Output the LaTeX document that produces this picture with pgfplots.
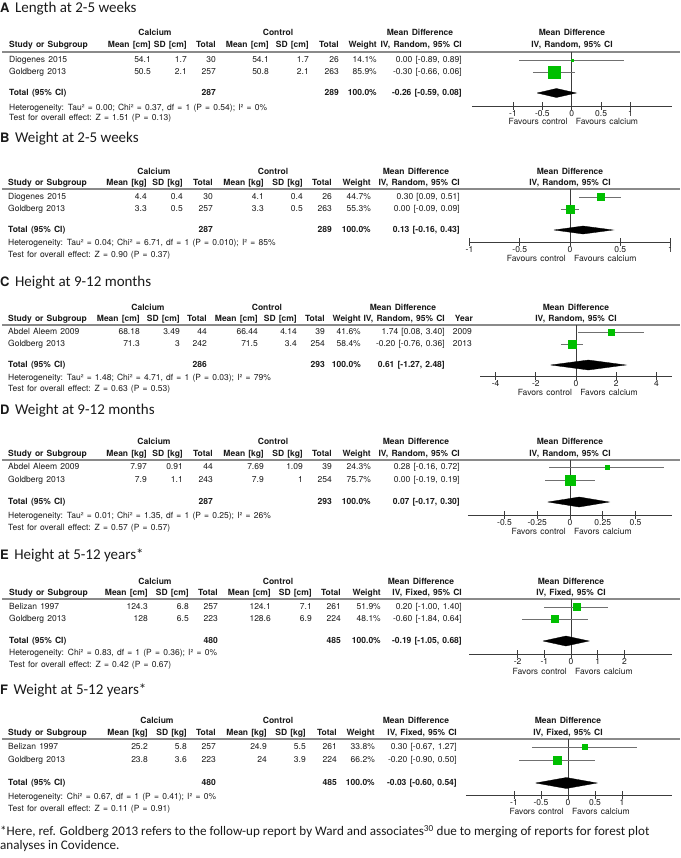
\documentclass[border=0pt]{standalone}
\usepackage{fontspec}
\setmainfont{TeX Gyre Heros}
\newfontfamily\calibri{Carlito}
\usepackage{pgfplots}
\pgfplotsset{compat=1.18}
\definecolor{txt}{HTML}{1A1A1A}
\definecolor{sqgreen}{HTML}{00BF00}
\definecolor{cigray}{HTML}{707070}
\definecolor{axgray}{HTML}{3C3C3C}
\definecolor{rulegray}{HTML}{8A8A8A}
\newcommand{\fs}{\fontsize{8.5}{9.5}\selectfont\spaceskip=3.2pt plus 1pt minus 0.5pt\relax}
\newcommand{\tl}[3]{\node[anchor=mid west] at (#1,#2) {#3};}
\newcommand{\tr}[3]{\node[anchor=mid east] at (#1,#2) {#3};}
\newcommand{\tc}[3]{\node[anchor=mid] at (#1,#2) {#3};}
% y, study, m1, sd1, n1, m2, sd2, n2, weight
\newcommand{\datarow}[9]{\tl{\cS}{#1}{#2}\tr{\cM}{#1}{#3}\tr{\cD}{#1}{#4}\tr{\cN}{#1}{#5}\tr{\cMM}{#1}{#6}\tr{\cDD}{#1}{#7}\tr{\cNN}{#1}{#8}\tr{\cW}{#1}{#9}}
% y, unit, method
\newcommand{\headrow}[3]{\tl{\cS}{#1}{\bfseries Study or Subgroup}\tr{\cM}{#1}{\bfseries Mean [#2]}\tr{\cD}{#1}{\bfseries SD [#2]}\tr{\cN}{#1}{\bfseries Total}\tr{\cMM}{#1}{\bfseries Mean [#2]}\tr{\cDD}{#1}{\bfseries SD [#2]}\tr{\cNN}{#1}{\bfseries Total}\tr{\cW}{#1}{\bfseries Weight}\tr{\cCI}{#1}{\bfseries IV, #3, 95\% CI}\tc{\cP}{#1}{\bfseries IV, #3, 95\% CI}}
% y, calcium x, control x
\newcommand{\grouprow}[3]{\tc{#2}{#1}{\bfseries Calcium}\tc{#3}{#1}{\bfseries Control}\tc{\cMD}{#1}{\bfseries Mean Difference}\tc{\cP}{#1}{\bfseries Mean Difference}}
% y, n1, n2, ci
\newcommand{\totalrow}[4]{\tl{\cS}{#1}{\bfseries Total (95\% CI)}\tr{\cN}{#1}{\bfseries #2}\tr{\cNN}{#1}{\bfseries #3}\tr{\cW}{#1}{\bfseries 100.0\%}\tr{\cCI}{#1}{\bfseries #4}}
\newcommand{\hrul}[1]{\draw[rulegray, line width=1.1pt] (2,#1) -- (680,#1);}
\newcommand{\ptitle}[3]{\node[anchor=mid west, font=\fontsize{15}{17}\selectfont] at (0,#1) {{\fontsize{13}{15}\selectfont\bfseries #2}\hspace{5.5pt}{\calibri #3}};}
\tikzset{fav/.style={font=\fs, text=txt, inner sep=0pt}}
\pgfplotsset{
  forest/.style={scale only axis, enlargelimits=false, clip=false, hide y axis,
    axis x line*=bottom, anchor=north west,
    axis line style={color=axgray, line width=0.9pt},
    xtick style={color=axgray, line width=0.9pt},
    tick align=center, major tick length=8pt,
    xticklabel style={font=\fs, anchor=mid, yshift=-3.5pt, text=txt}},
  zeroline/.style={axgray, line width=0.9pt},
  ci/.style={cigray, line width=0.9pt},
  sq/.style={only marks, mark=square*, mark options={fill=sqgreen, draw=sqgreen, line width=0.2pt}},
  diam/.style={fill=black, draw=black, line width=0.3pt},
}
\begin{document}
\begin{tikzpicture}[x=1pt, y=-1pt, every node/.style={inner sep=0pt, font=\fs, text=txt}]
\path[use as bounding box] (0,0) rectangle (680,858);

% ---------------- Panel A ----------------
\ptitle{9.4}{A}{Length at 2-5 weeks}
\def\cS{9}\def\cM{151}\def\cD{187}\def\cN{216}\def\cMM{269}\def\cDD{309}\def\cNN{339}\def\cW{377}\def\cCI{462}\def\cMD{420}\def\cP{572}
\grouprow{33}{155}{278}
\headrow{45}{cm}{Random}
\hrul{52}
\datarow{60}{Diogenes 2015}{54.1}{1.7}{30}{54.1}{1.7}{26}{14.1\%}\tr{\cCI}{60}{0.00 [-0.89, 0.89]}
\datarow{72}{Goldberg 2013}{50.5}{2.1}{257}{50.8}{2.1}{263}{85.9\%}\tr{\cCI}{72}{-0.30 [-0.66, 0.06]}
\totalrow{93}{287}{289}{-0.26 [-0.59, 0.08]}
\tl{\cS}{108}{Heterogeneity: Tau² = 0.00; Chi² = 0.37, df = 1 (P = 0.54); I² = 0\%}
\tl{\cS}{118}{Test for overall effect: Z = 1.51 (P = 0.13)}
\begin{axis}[forest, at={(471.9pt,-52pt)}, width=200.2pt, height=54pt, xmin=-1.7, xmax=1.71, ymin=-106, ymax=-52,
  xtick={-1,-0.5,0,0.5,1}, xticklabels={-1,-0.5,0,0.5,1}]
\addplot[zeroline] coordinates {(0,-52) (0,-106)};
\addplot[ci] coordinates {(-0.89,-60) (0.89,-60)};
\addplot[ci] coordinates {(-0.66,-72) (0.06,-72)};
\addplot[sq, mark size=1pt] coordinates {(0.00,-60)};
\addplot[sq, mark size=6pt] coordinates {(-0.30,-72)};
\addplot[diam] coordinates {(-0.59,-93) (-0.26,-88.5) (0.08,-93) (-0.26,-97.5) (-0.59,-93)};
\node[fav, anchor=mid east, xshift=-4pt] at (axis cs:0,-122) {Favours control};
\node[fav, anchor=mid west, xshift=4pt] at (axis cs:0,-122) {Favours calcium};
\end{axis}

% ---------------- Panel B ----------------
\ptitle{140.2}{B}{Weight at 2-5 weeks}
\def\cS{8}\def\cM{147}\def\cD{183}\def\cN{213}\def\cMM{264}\def\cDD{303}\def\cNN{332}\def\cW{371}\def\cCI{460}\def\cMD{416}\def\cP{570}
\grouprow{172}{154}{273}
\headrow{183}{kg}{Random}
\hrul{189}
\datarow{197}{Diogenes 2015}{4.4}{0.4}{30}{4.1}{0.4}{26}{44.7\%}\tr{\cCI}{197}{0.30 [0.09, 0.51]}
\datarow{209}{Goldberg 2013}{3.3}{0.5}{257}{3.3}{0.5}{263}{55.3\%}\tr{\cCI}{209}{0.00 [-0.09, 0.09]}
\totalrow{230}{287}{289}{0.13 [-0.16, 0.43]}
\tl{\cS}{243}{Heterogeneity: Tau² = 0.04; Chi² = 6.71, df = 1 (P = 0.010); I² = 85\%}
\tl{\cS}{255}{Test for overall effect: Z = 0.90 (P = 0.37)}
\begin{axis}[forest, at={(469.5pt,-189pt)}, width=201pt, height=53pt, xmin=-1, xmax=1, ymin=-242, ymax=-189,
  xtick={-1,-0.5,0,0.5,1}, xticklabels={-1,-0.5,0,0.5,1}]
\addplot[zeroline] coordinates {(0,-189) (0,-242)};
\addplot[ci] coordinates {(0.09,-197) (0.51,-197)};
\addplot[ci] coordinates {(-0.09,-209) (0.09,-209)};
\addplot[sq, mark size=3.5pt] coordinates {(0.30,-197)};
\addplot[sq, mark size=4pt] coordinates {(0.00,-209)};
\addplot[diam] coordinates {(-0.16,-230) (0.13,-226) (0.43,-230) (0.13,-234) (-0.16,-230)};
\node[fav, anchor=mid east, xshift=-4pt] at (axis cs:0,-258.5) {Favours control};
\node[fav, anchor=mid west, xshift=4pt] at (axis cs:0,-258.5) {Favours calcium};
\end{axis}

% ---------------- Panel C ----------------
\ptitle{283.6}{C}{Height at 9-12 months}
\def\cS{8}\def\cM{140}\def\cD{180}\def\cN{207}\def\cMM{258}\def\cDD{297}\def\cNN{325}\def\cW{361}\def\cCI{445}\def\cMD{403}\def\cP{576}
\grouprow{308}{148}{267}
\headrow{319}{cm}{Random}
\tr{473}{319}{\bfseries Year}
\hrul{325}
\datarow{332}{Abdel Aleem 2009}{68.18}{3.49}{44}{66.44}{4.14}{39}{41.6\%}\tr{\cCI}{332}{1.74 [0.08, 3.40]}\tr{472}{332}{2009}
\datarow{344}{Goldberg 2013}{71.3}{3}{242}{71.5}{3.4}{254}{58.4\%}\tr{\cCI}{344}{-0.20 [-0.76, 0.36]}\tr{472}{344}{2013}
\totalrow{365}{286}{293}{0.61 [-1.27, 2.48]}
\tl{\cS}{378}{Heterogeneity: Tau² = 1.48; Chi² = 4.71, df = 1 (P = 0.03); I² = 79\%}
\tl{\cS}{389}{Test for overall effect: Z = 0.63 (P = 0.53)}
\begin{axis}[forest, at={(480pt,-325pt)}, width=192.2pt, height=51pt, xmin=-4.78, xmax=4.78, ymin=-376, ymax=-325,
  xtick={-4,-2,0,2,4}, xticklabels={-4,-2,0,2,4}]
\addplot[zeroline] coordinates {(0,-325) (0,-376)};
\addplot[ci] coordinates {(0.08,-332) (3.40,-332)};
\addplot[ci] coordinates {(-0.76,-344) (0.36,-344)};
\addplot[sq, mark size=3pt] coordinates {(1.74,-332)};
\addplot[sq, mark size=4pt] coordinates {(-0.20,-344)};
\addplot[diam] coordinates {(-1.27,-365) (0.61,-360) (2.48,-365) (0.61,-370) (-1.27,-365)};
\node[fav, anchor=mid east, xshift=-4pt] at (axis cs:0,-393) {Favors control};
\node[fav, anchor=mid west, xshift=4pt] at (axis cs:0,-393) {Favors calcium};
\end{axis}

% ---------------- Panel D ----------------
\ptitle{411.6}{D}{Weight at 9-12 months}
\def\cS{8}\def\cM{147}\def\cD{183}\def\cN{213}\def\cMM{264}\def\cDD{303}\def\cNN{332}\def\cW{371}\def\cCI{460}\def\cMD{416}\def\cP{570}
\grouprow{442}{154}{273}
\headrow{454}{kg}{Random}
\hrul{460}
\datarow{467}{Abdel Aleem 2009}{7.97}{0.91}{44}{7.69}{1.09}{39}{24.3\%}\tr{\cCI}{467}{0.28 [-0.16, 0.72]}
\datarow{480}{Goldberg 2013}{7.9}{1.1}{243}{7.9}{1}{254}{75.7\%}\tr{\cCI}{480}{0.00 [-0.19, 0.19]}
\totalrow{502}{287}{293}{0.07 [-0.17, 0.30]}
\tl{\cS}{516}{Heterogeneity: Tau² = 0.01; Chi² = 1.35, df = 1 (P = 0.25); I² = 26\%}
\tl{\cS}{528}{Test for overall effect: Z = 0.57 (P = 0.57)}
\begin{axis}[forest, at={(467.8pt,-460pt)}, width=204.4pt, height=55pt, xmin=-0.78, xmax=0.78, ymin=-515, ymax=-460,
  xtick={-0.5,-0.25,0,0.25,0.5}, xticklabels={-0.5,-0.25,0,0.25,0.5}]
\addplot[zeroline] coordinates {(0,-460) (0,-515)};
\addplot[ci] coordinates {(-0.16,-467) (0.72,-467)};
\addplot[ci] coordinates {(-0.19,-480) (0.19,-480)};
\addplot[sq, mark size=2pt] coordinates {(0.28,-467)};
\addplot[sq, mark size=5pt] coordinates {(0.00,-480)};
\addplot[diam] coordinates {(-0.17,-502) (0.07,-497) (0.30,-502) (0.07,-507) (-0.17,-502)};
\node[fav, anchor=mid east, xshift=-4pt] at (axis cs:0,-532) {Favors control};
\node[fav, anchor=mid west, xshift=4pt] at (axis cs:0,-532) {Favors calcium};
\end{axis}

% ---------------- Panel E ----------------
\ptitle{556.6}{E}{Height at 5-12 years*}
\def\cS{9}\def\cM{148}\def\cD{189}\def\cN{218}\def\cMM{271}\def\cDD{312}\def\cNN{341}\def\cW{381}\def\cCI{462}\def\cMD{421}\def\cP{571}
\grouprow{582}{155}{278}
\headrow{593}{cm}{Fixed}
\hrul{599}
\datarow{607}{Belizan 1997}{124.3}{6.8}{257}{124.1}{7.1}{261}{51.9\%}\tr{\cCI}{607}{0.20 [-1.00, 1.40]}
\datarow{619}{Goldberg 2013}{128}{6.5}{223}{128.6}{6.9}{224}{48.1\%}\tr{\cCI}{619}{-0.60 [-1.84, 0.64]}
\totalrow{641}{480}{485}{-0.19 [-1.05, 0.68]}
\tl{\cS}{653}{Heterogeneity: Chi² = 0.83, df = 1 (P = 0.36); I² = 0\%}
\tl{\cS}{665}{Test for overall effect: Z = 0.42 (P = 0.67)}
\begin{axis}[forest, at={(469pt,-599pt)}, width=202.9pt, height=55pt, xmin=-3.82, xmax=3.78, ymin=-654, ymax=-599,
  xtick={-2,-1,0,1,2}, xticklabels={-2,-1,0,1,2}]
\addplot[zeroline] coordinates {(0,-599) (0,-654)};
\addplot[ci] coordinates {(-1.00,-607) (1.40,-607)};
\addplot[ci] coordinates {(-1.84,-619) (0.64,-619)};
\addplot[sq, mark size=3.5pt] coordinates {(0.20,-607)};
\addplot[sq, mark size=3.5pt] coordinates {(-0.60,-619)};
\addplot[diam] coordinates {(-1.05,-641) (-0.19,-636) (0.68,-641) (-0.19,-646) (-1.05,-641)};
\node[fav, anchor=mid east, xshift=-4pt] at (axis cs:0,-672) {Favors control};
\node[fav, anchor=mid west, xshift=4pt] at (axis cs:0,-672) {Favors calcium};
\end{axis}

% ---------------- Panel F ----------------
\ptitle{691.6}{F}{Weight at 5-12 years*}
\def\cS{8}\def\cM{148}\def\cD{187}\def\cN{216}\def\cMM{267}\def\cDD{306}\def\cNN{337}\def\cW{375}\def\cCI{457}\def\cMD{416}\def\cP{568}
\grouprow{721}{157}{278}
\headrow{733}{kg}{Fixed}
\hrul{739}
\datarow{747}{Belizan 1997}{25.2}{5.8}{257}{24.9}{5.5}{261}{33.8\%}\tr{\cCI}{747}{0.30 [-0.67, 1.27]}
\datarow{760}{Goldberg 2013}{23.8}{3.6}{223}{24}{3.9}{224}{66.2\%}\tr{\cCI}{760}{-0.20 [-0.90, 0.50]}
\totalrow{783}{480}{485}{-0.03 [-0.60, 0.54]}
\tl{\cS}{797}{Heterogeneity: Chi² = 0.67, df = 1 (P = 0.41); I² = 0\%}
\tl{\cS}{809}{Test for overall effect: Z = 0.11 (P = 0.91)}
\begin{axis}[forest, at={(465.9pt,-739pt)}, width=206.3pt, height=56pt, xmin=-1.89, xmax=1.93, ymin=-795, ymax=-739,
  xtick={-1,-0.5,0,0.5,1}, xticklabels={-1,-0.5,0,0.5,1}]
\addplot[zeroline] coordinates {(0,-739) (0,-795)};
\addplot[ci] coordinates {(-0.67,-747) (1.27,-747)};
\addplot[ci] coordinates {(-0.90,-760) (0.50,-760)};
\addplot[sq, mark size=2.5pt] coordinates {(0.30,-747)};
\addplot[sq, mark size=4.25pt] coordinates {(-0.20,-760)};
\addplot[diam] coordinates {(-0.60,-783) (-0.03,-777.5) (0.54,-783) (-0.03,-788.5) (-0.60,-783)};
\node[fav, anchor=mid east, xshift=-4pt] at (axis cs:0,-812) {Favors control};
\node[fav, anchor=mid west, xshift=4pt] at (axis cs:0,-812) {Favors calcium};
\end{axis}

% ---------------- Footnote ----------------
\node[anchor=mid west, font=\calibri\fontsize{13.1}{15}\selectfont] at (0,833) {*Here, ref. Goldberg 2013 refers to the follow-up report by Ward and associates\textsuperscript{30} due to merging of reports for forest plot};
\node[anchor=mid west, font=\calibri\fontsize{13.1}{15}\selectfont] at (0,847) {analyses in Covidence.};
\end{tikzpicture}
\end{document}
